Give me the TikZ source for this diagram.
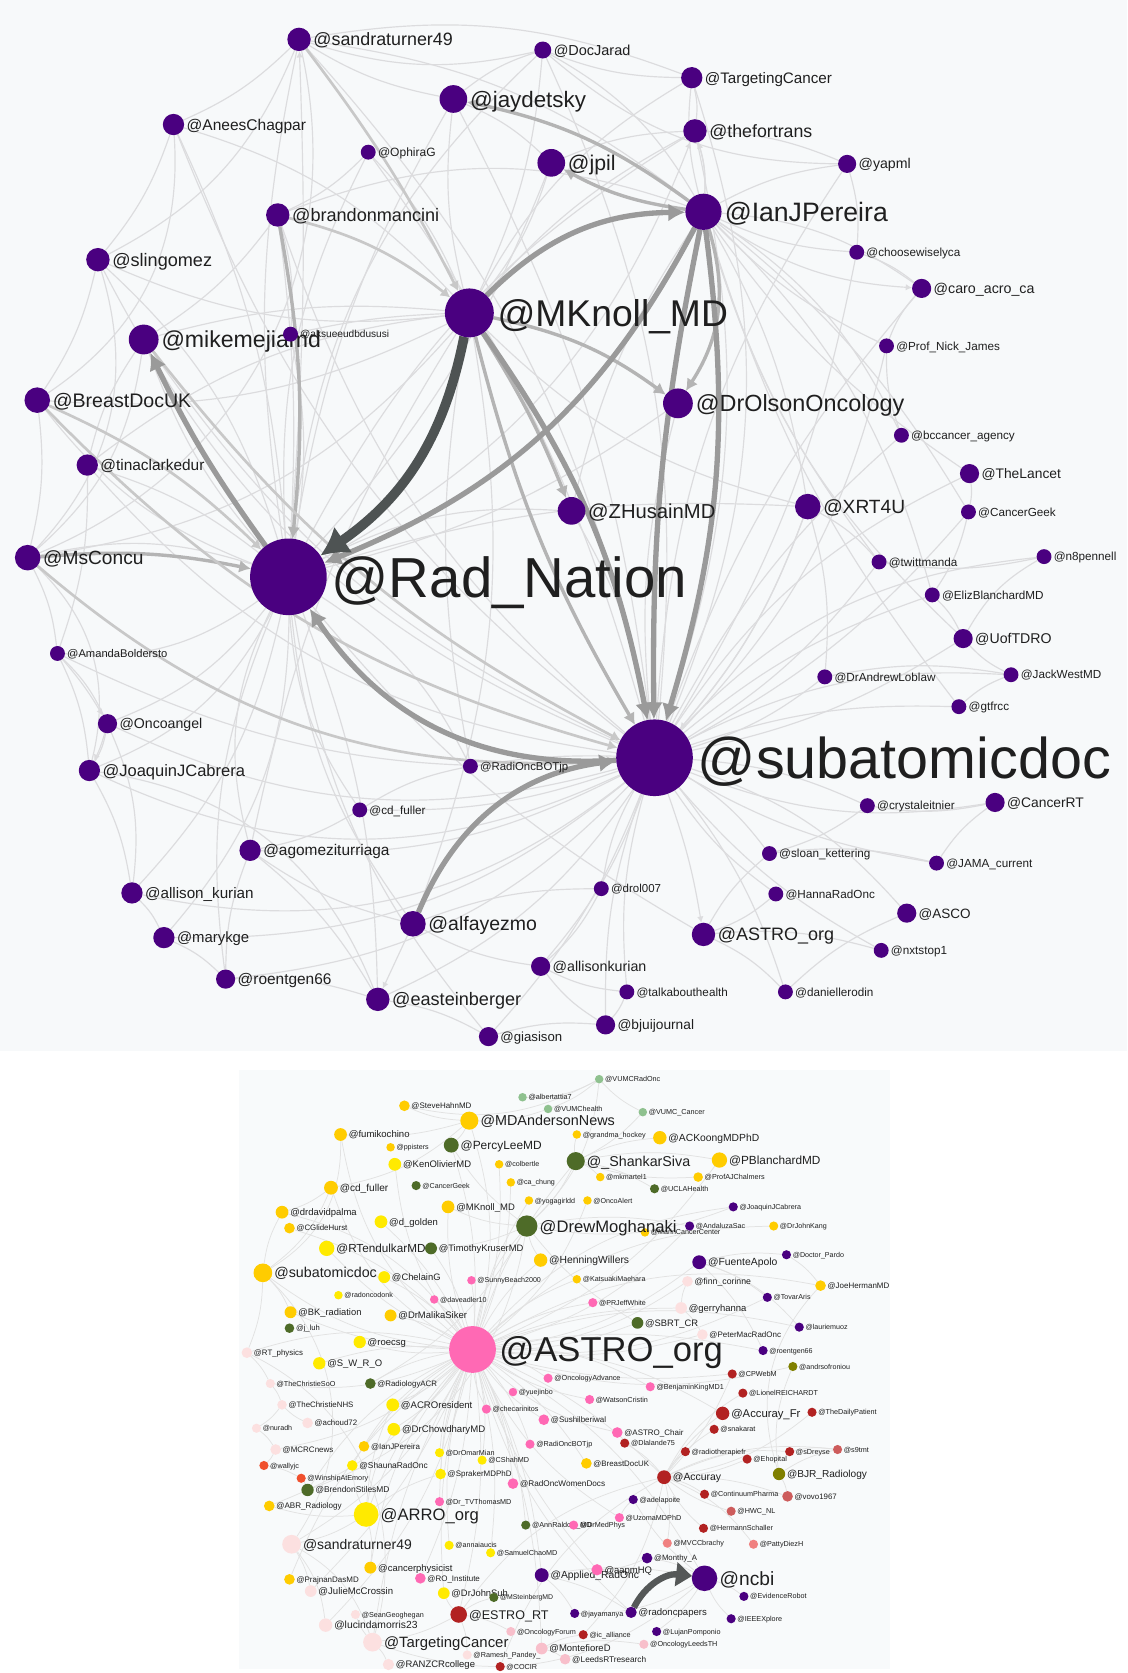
\documentclass[tikz,border=0pt]{standalone}
\usepackage{fontspec}
\setmainfont{Liberation Sans}
\usetikzlibrary{arrows.meta}
\pgfdeclarelayer{back}
\pgfdeclarelayer{edges}
\pgfsetlayers{back,edges,main}
\definecolor{bgtop}{HTML}{F7F9FA}
\definecolor{bgbot}{HTML}{F8FAFB}
\definecolor{cpurp}{HTML}{4A0080}
\definecolor{cgold}{HTML}{FFCC00}
\definecolor{cyel}{HTML}{FFEA00}
\definecolor{cdgreen}{HTML}{4E6B28}
\definecolor{clgreen}{HTML}{8FC18F}
\definecolor{cpink}{HTML}{FF69B4}
\definecolor{clpink}{HTML}{FCE0E0}
\definecolor{cpinkb}{HTML}{F8BFCB}
\definecolor{cdred}{HTML}{B22222}
\definecolor{crose}{HTML}{CD5C5C}
\definecolor{csalmon}{HTML}{F08080}
\definecolor{corange}{HTML}{F0502D}
\definecolor{colive}{HTML}{808000}
\definecolor{tlt}{HTML}{DCDCDE}
\definecolor{tmdl}{HTML}{C8C8C8}
\definecolor{tmd}{HTML}{B4B4B4}
\definecolor{ttk}{HTML}{9A9A9A}
\definecolor{tdk}{HTML}{4E5353}
\definecolor{blt}{HTML}{E2E2E2}
\definecolor{bdkc}{HTML}{555858}
\tikzset{
 dotn/.style={circle,inner sep=0pt,outer sep=0pt,draw=none},
 lbl/.style={anchor=base west,inner sep=0pt,outer sep=0pt,text=black!88},
 lt/.style={draw=tlt,line width=1.1pt},
 lta/.style={lt,-{Latex[length=6pt,width=6pt]}},
 mdl/.style={draw=tmdl,line width=2.5pt,-{Latex[length=9pt,width=10pt]}},
 md/.style={draw=tmd,line width=3.2pt,-{Latex[length=11pt,width=12pt]}},
 tk/.style={draw=ttk,line width=5pt,-{Latex[length=16pt,width=17pt]}},
 dk/.style={draw=tdk,line width=9pt,-{Latex[length=26pt,width=30pt]}},
 bl/.style={draw=blt,line width=0.7pt},
 bdk/.style={draw=bdkc,line width=6pt,-{Triangle[length=15pt,width=22pt]}},
}
\newcommand\tnode[6]{%
 \node[dotn,fill=cpurp,minimum size={2*#4}] (#1) at (#2,#3) {};
 \node[lbl,font=\fontsize{#5}{#5}\selectfont] (#1l) at ([shift={(1.5+0.06*#5,0.36*#5)}]#1.east) {#6};}
\newcommand\bnode[7]{%
 \node[dotn,fill=#6,minimum size={2*#4}] (#1) at (#2,#3) {};
 \node[lbl,font=\fontsize{#5}{#5}\selectfont] (#1l) at ([shift={(1.2+0.06*#5,0.36*#5)}]#1.east) {#7};}
\begin{document}
\begin{tikzpicture}[x=1pt,y=-1pt]
\useasboundingbox (0,0) rectangle (1059,1572);
\begin{pgfonlayer}{back}
\fill[white] (0,0) rectangle (1059,1572);
\fill[bgtop] (0,0) rectangle (1059,988);
\fill[bgbot] (225,1005) rectangle (836,1568);
\end{pgfonlayer}
% ---------------- top graph nodes
\tnode{st}{281}{37}{11}{16.8}{@sandraturner49}
\tnode{dj}{510}{47}{8}{13.6}{@DocJarad}
\tnode{tc}{650}{73}{10}{14.3}{@TargetingCancer}
\tnode{jd}{426}{93}{13}{21}{@jaydetsky}
\tnode{ac}{163}{117}{10}{14.6}{@AneesChagpar}
\tnode{og}{346}{143}{7}{11.3}{@OphiraG}
\tnode{tf}{653}{123}{11}{16.7}{@thefortrans}
\tnode{jp}{518}{153}{13}{20}{@jpil}
\tnode{yp}{796}{154}{8.5}{13.3}{@yapml}
\tnode{ij}{661}{199}{17}{25}{@IanJPereira}
\tnode{bm}{261}{202}{11}{17}{@brandonmancini}
\tnode{cw}{805}{237}{7}{11}{@choosewiselyca}
\tnode{sg}{92}{244}{11}{17}{@slingomez}
\tnode{ca}{866}{271}{9}{13.4}{@caro\_acro\_ca}
\tnode{mk}{441}{294}{23}{35}{@MKnoll\_MD}
\tnode{mm}{135}{319}{14}{21.7}{@mikemejiamd}
\tnode{ak}{273}{314}{7}{9.5}{@aksueeudbdususi}
\tnode{pn}{833}{325}{7}{11}{@Prof\_Nick\_James}
\tnode{bd}{35}{376}{12}{18.4}{@BreastDocUK}
\tnode{do}{637}{379}{14}{22}{@DrOlsonOncology}
\tnode{bc}{847}{409}{7}{11}{@bccancer\_agency}
\tnode{tcd}{82}{437}{10}{14.5}{@tinaclarkedur}
\tnode{tl}{911}{445}{9}{13}{@TheLancet}
\tnode{zh}{537}{480}{13}{19}{@ZHusainMD}
\tnode{xr}{759}{476}{12}{18}{@XRT4U}
\tnode{cg}{910}{481}{7}{11}{@CancerGeek}
\tnode{mc}{26}{524}{12}{18}{@MsConcu}
\tnode{rn}{271}{542}{36}{53}{@Rad\_Nation}
\tnode{tw}{826}{528}{7}{11}{@twittmanda}
\tnode{n8}{981}{523}{7}{11}{@n8pennell}
\tnode{eb}{876}{559}{7}{11}{@ElizBlanchardMD}
\tnode{ab}{54}{614}{7}{10.5}{@AmandaBoldersto}
\tnode{ut}{905}{600}{9}{13.3}{@UofTDRO}
\tnode{al}{775}{636}{7}{11}{@DrAndrewLoblaw}
\tnode{jw}{950}{634}{7}{11}{@JackWestMD}
\tnode{gt}{901}{664}{7}{11}{@gtfrcc}
\tnode{oa}{101}{680}{9}{13.3}{@Oncoangel}
\tnode{sd}{615}{712}{36}{54}{@subatomicdoc}
\tnode{jc}{84}{724}{10}{15.5}{@JoaquinJCabrera}
\tnode{rb}{442}{720}{7}{10.7}{@RadiOncBOTjp}
\tnode{cr}{935}{754}{9}{13}{@CancerRT}
\tnode{ce}{815}{757}{7}{11}{@crystaleitnier}
\tnode{cf}{338}{761}{7}{11}{@cd\_fuller}
\tnode{ag}{235}{799}{10}{14.5}{@agomeziturriaga}
\tnode{sk}{723}{802}{7}{11}{@sloan\_kettering}
\tnode{jm}{880}{811}{7}{11}{@JAMA\_current}
\tnode{dr}{565}{835}{7}{10.8}{@drol007}
\tnode{hr}{729}{840}{7}{11}{@HannaRadOnc}
\tnode{aku}{124}{839}{10}{14.3}{@allison\_kurian}
\tnode{as}{852}{858}{9}{12.7}{@ASCO}
\tnode{af}{388}{868}{12}{18.3}{@alfayezmo}
\tnode{ao}{661}{878}{11}{16.9}{@ASTRO\_org}
\tnode{mg}{154}{881}{10}{14}{@marykge}
\tnode{nx}{828}{893}{7}{11}{@nxtstop1}
\tnode{akk}{508}{908}{9}{13.4}{@allisonkurian}
\tnode{ro}{212}{920}{9}{14.5}{@roentgen66}
\tnode{es}{355}{939}{11}{17}{@easteinberger}
\tnode{tb}{589}{932}{7}{11}{@talkabouthealth}
\tnode{dro}{738}{932}{7}{11}{@daniellerodin}
\tnode{gi}{459}{974}{9}{12.4}{@giasison}
\tnode{bj}{569}{963}{9}{12.9}{@bjuijournal}
% ---------------- bottom graph nodes
\bnode{bVUR}{563}{1014}{4}{6.8}{clgreen}{@VUMCRadOnc}
\bnode{bAlb}{491}{1031}{4}{6.8}{clgreen}{@albertattia7}
\bnode{bVUH}{515}{1042}{4}{6.8}{clgreen}{@VUMChealth}
\bnode{bVUC}{604}{1045}{4}{6.8}{clgreen}{@VUMC\_Cancer}
\bnode{bSHM}{380}{1039}{5}{7.5}{cgold}{@SteveHahnMD}
\bnode{bMDA}{441}{1053}{8.5}{13.5}{cgold}{@MDAndersonNews}
\bnode{bFum}{320}{1066}{6}{9}{cgold}{@fumikochino}
\bnode{bGH}{542}{1066}{4}{6.8}{cgold}{@grandma\_hockey}
\bnode{bACK}{620}{1069}{6.3}{9.7}{cgold}{@ACKoongMDPhD}
\bnode{bPP}{367}{1078}{4}{6.7}{cgold}{@ppisters}
\bnode{bPL}{424}{1076}{7}{11.2}{cdgreen}{@PercyLeeMD}
\bnode{bKO}{371}{1094}{6}{8.9}{cyel}{@KenOlivierMD}
\bnode{bCol}{469}{1094}{4}{6.7}{cgold}{@colbertle}
\bnode{bSS}{541}{1091}{8.5}{13.4}{cdgreen}{@\_ShankarSiva}
\bnode{bPB}{676}{1090}{7.2}{11.1}{cgold}{@PBlanchardMD}
\bnode{bMM}{564}{1106}{4}{6.7}{cgold}{@mkmartel1}
\bnode{bPAC}{656}{1106}{4.5}{6.8}{cgold}{@ProfAJChalmers}
\bnode{bCF}{311}{1116}{6.5}{9.5}{cgold}{@cd\_fuller}
\bnode{bCG}{391}{1114}{4.3}{6.7}{cdgreen}{@CancerGeek}
\bnode{bCC}{480}{1111}{4}{6.7}{cgold}{@ca\_chung}
\bnode{bUCLA}{615}{1117}{4.3}{6.8}{cdgreen}{@UCLAHealth}
\bnode{bYog}{497}{1128}{4}{6.7}{cgold}{@yogagirldd}
\bnode{bOA}{552}{1128}{4}{6.7}{cgold}{@OncoAlert}
\bnode{bJJC}{689}{1134}{4.3}{6.7}{cpurp}{@JoaquinJCabrera}
\bnode{bDDP}{265}{1139}{6}{8.9}{cgold}{@drdavidpalma}
\bnode{bMK}{421}{1134}{6}{8.9}{cgold}{@MKnoll\_MD}
\bnode{bDG}{358}{1148}{6}{8.9}{cyel}{@d\_golden}
\bnode{bMCC}{606}{1158}{4}{6.7}{cgold}{@MarinCancerCenter}
\bnode{bDM}{495}{1152}{10}{15.6}{cdgreen}{@DrewMoghanaki}
\bnode{bAS}{648}{1152}{4.3}{6.7}{cpurp}{@AndaluzaSac}
\bnode{bDJK}{727}{1152}{4.3}{6.7}{cgold}{@DrJohnKang}
\bnode{bCGH}{272}{1154}{5}{7.4}{cgold}{@CGlideHurst}
\bnode{bRT}{307}{1173}{7.2}{11}{cyel}{@RTendulkarMD}
\bnode{bTK}{405}{1173}{5.6}{8.8}{cdgreen}{@TimothyKruserMD}
\bnode{bHW}{508}{1184}{6.3}{9.7}{cgold}{@HenningWillers}
\bnode{bFA}{657}{1186}{6.5}{9.75}{cpurp}{@FuenteApolo}
\bnode{bDP}{739}{1179}{4.3}{6.7}{cpurp}{@Doctor\_Pardo}
\bnode{bSub}{247}{1196}{8.8}{13.4}{cgold}{@subatomicdoc}
\bnode{bChe}{361}{1200}{5.6}{8.8}{cyel}{@ChelainG}
\bnode{bSB}{443}{1203}{4}{6.7}{cpink}{@SunnyBeach2000}
\bnode{bKM}{542}{1202}{4}{6.7}{cgold}{@KatsuakiMaehara}
\bnode{bFC}{646}{1204}{5}{8.2}{clpink}{@finn\_corinne}
\bnode{bJH}{771}{1208}{5}{7.5}{cgold}{@JoeHermanMD}
\bnode{bRC}{318}{1217}{4}{6.7}{cyel}{@radoncodonk}
\bnode{bDA}{408}{1221}{4}{6.7}{cpink}{@daveadler10}
\bnode{bPRJ}{557}{1224}{4.3}{6.7}{cpink}{@PRJeffWhite}
\bnode{bTA}{721}{1219}{4.3}{6.7}{cpurp}{@TovarAris}
\bnode{bBK}{273}{1233}{5.6}{8.8}{cgold}{@BK\_radiation}
\bnode{bDMS}{367}{1236}{5.6}{8.9}{cgold}{@DrMalikaSiker}
\bnode{bGHa}{640}{1229}{5.5}{8.9}{clpink}{@gerryhanna}
\bnode{bJL}{272}{1248}{4.5}{7.2}{cdgreen}{@j\_luh}
\bnode{bSBRT}{599}{1243}{5.5}{8.8}{cdgreen}{@SBRT\_CR}
\bnode{bLM}{751}{1247}{4.3}{6.7}{cpurp}{@lauriemuoz}
\bnode{bPMR}{660}{1254}{5}{7.5}{clpink}{@PeterMacRadOnc}
\bnode{bRoe}{338}{1261}{5.8}{8.9}{cyel}{@roecsg}
\bnode{bA}{444}{1268}{22}{32.5}{cpink}{@ASTRO\_org}
\bnode{bRTP}{232}{1271}{5}{7.4}{clpink}{@RT\_physics}
\bnode{bR66}{717}{1269}{4.3}{6.7}{cpurp}{@roentgen66}
\bnode{bSWRO}{300}{1281}{5.8}{8.9}{cyel}{@S\_W\_R\_O}
\bnode{bAnd}{745}{1284}{4.3}{6.7}{colive}{@andrsofroniou}
\bnode{bCSoO}{254}{1300}{4.3}{6.8}{clpink}{@TheChristieSoO}
\bnode{bRACR}{348}{1300}{5}{7.4}{cdgreen}{@RadiologyACR}
\bnode{bOAdv}{515}{1295}{4.3}{6.8}{cpink}{@OncologyAdvance}
\bnode{bCPW}{688}{1291}{4.3}{6.8}{cdred}{@CPWebM}
\bnode{bYue}{482}{1308}{4}{6.7}{cpink}{@yuejinbo}
\bnode{bBKM}{611}{1303}{4.3}{6.8}{cpink}{@BenjaminKingMD1}
\bnode{bWC}{554}{1315}{4.3}{6.8}{cpink}{@WatsonCristin}
\bnode{bLR}{698}{1309}{4.3}{6.8}{cdred}{@LionelREICHARDT}
\bnode{bCNHS}{265}{1320}{4.5}{7.4}{clpink}{@TheChristieNHS}
\bnode{bACRO}{369}{1320}{6}{9}{cyel}{@ACROresident}
\bnode{bChec}{457}{1324}{4.3}{6.8}{cpink}{@checarinitos}
\bnode{bAFr}{679}{1328}{6.3}{10.6}{cdred}{@Accuray\_Fr}
\bnode{bTDP}{763}{1327}{4.3}{6.8}{cdred}{@TheDailyPatient}
\bnode{bSush}{511}{1334}{5}{7.5}{cpink}{@Sushilberiwal}
\bnode{bNur}{241}{1342}{4.3}{6.7}{clpink}{@nuradh}
\bnode{bAch}{289}{1337}{5}{7.4}{clpink}{@achoud72}
\bnode{bDCh}{370}{1343}{6}{9}{cyel}{@DrChowdharyMD}
\bnode{bAC}{580}{1346}{5}{7.5}{cpink}{@ASTRO\_Chair}
\bnode{bSnk}{671}{1343}{4.3}{6.8}{cdred}{@snakarat}
\bnode{bDl}{587}{1356}{4.3}{6.8}{cdred}{@Dlalande75}
\bnode{bROB}{498}{1357}{4.3}{6.8}{cpink}{@RadiOncBOTjp}
\bnode{bIJP}{342}{1359}{5}{7.5}{cgold}{@IanJPereira}
\bnode{bMCR}{259}{1362}{5}{7.5}{clpink}{@MCRCnews}
\bnode{bRTF}{644}{1364}{4.3}{6.8}{cdred}{@radiotherapiefr}
\bnode{bSD}{742}{1364}{4.3}{6.8}{cdred}{@sDreyse}
\bnode{bS9}{787}{1362}{4.3}{6.8}{crose}{@s9tmt}
\bnode{bDOM}{413}{1365}{4.3}{6.8}{cyel}{@DrOmarMian}
\bnode{bCSh}{453}{1372}{4.3}{6.8}{cyel}{@CShahMD}
\bnode{bEh}{702}{1371}{4.3}{6.8}{cdred}{@Ehopital}
\bnode{bSRO}{331}{1377}{5}{7.9}{cyel}{@ShaunaRadOnc}
\bnode{bWJ}{248}{1377}{4.3}{6.8}{corange}{@wallyjc}
\bnode{bBDU}{551}{1375}{5}{7.4}{cgold}{@BreastDocUK}
\bnode{bSpr}{414}{1385}{5}{7.5}{cyel}{@SprakerMDPhD}
\bnode{bWAE}{283}{1389}{4.3}{6.8}{corange}{@WinshipAtEmory}
\bnode{bAcc}{624}{1388}{6.5}{9.8}{cdred}{@Accuray}
\bnode{bBJR}{732}{1385}{5.8}{9.5}{colive}{@BJR\_Radiology}
\bnode{bBSM}{289}{1400}{5.8}{7.9}{cdgreen}{@BrendonStilesMD}
\bnode{bROWD}{482}{1394}{5}{7.7}{cpink}{@RadOncWomenDocs}
\bnode{bCP}{662}{1404}{4.3}{6.8}{cdred}{@ContinuumPharma}
\bnode{bVov}{740}{1406}{5}{7.4}{crose}{@vovo1967}
\bnode{bAdl}{595}{1409}{4.3}{6.8}{cpurp}{@adelapoite}
\bnode{bTVT}{413}{1411}{4.3}{6.8}{cpink}{@Dr\_TVThomasMD}
\bnode{bABR}{253}{1415}{5}{7.6}{cgold}{@ABR\_Radiology}
\bnode{bARRO}{344}{1423}{11.6}{15.6}{cyel}{@ARRO\_org}
\bnode{bHWC}{687}{1420}{4.3}{6.8}{crose}{@HWC\_NL}
\bnode{bARM}{494}{1433}{4.3}{6.8}{cdgreen}{@AnnRaldow\_MD}
\bnode{bUzo}{582}{1426}{4.3}{6.8}{cpink}{@UzomaMDPhD}
\bnode{bDMP}{539}{1433}{4.3}{6.8}{cpink}{@DrMedPhys}
\bnode{bHS}{661}{1436}{4.3}{6.8}{cdred}{@HermannSchaller}
\bnode{bST}{274}{1451}{8.8}{13.1}{clpink}{@sandraturner49}
\bnode{bMVCC}{627}{1450}{4.3}{6.8}{csalmon}{@MVCCbrachy}
\bnode{bPDH}{708}{1451}{4.3}{6.8}{csalmon}{@PattyDiezH}
\bnode{bAnn}{422}{1452}{4.3}{6.7}{cyel}{@annaiaucis}
\bnode{bSCM}{461}{1459}{4.3}{6.8}{cyel}{@SamuelChaoMD}
\bnode{bMon}{608}{1464}{5}{7.3}{cpurp}{@Monthy\_A}
\bnode{bCPh}{348}{1473}{5.6}{8.9}{cgold}{@cancerphysicist}
\bnode{bARO}{509}{1480}{6.5}{9.7}{cpurp}{@Applied\_RadOnc}
\bnode{bAapm}{561}{1475}{5.3}{8.9}{cpink}{@aapmHQ}
\bnode{bNcbi}{662}{1483}{12}{18}{cpurp}{@ncbi}
\bnode{bROI}{395}{1483}{5}{7.5}{cpink}{@RO\_Institute}
\bnode{bPDM}{272}{1484}{5}{7.5}{cgold}{@PrajnanDasMD}
\bnode{bJMC}{292}{1495}{5.5}{9}{clpink}{@JulieMcCrossin}
\bnode{bDJS}{417}{1497}{5.5}{8.8}{cyel}{@DrJohnSuh}
\bnode{bMSB}{464}{1501}{4.3}{6.5}{cdgreen}{@MSteinbergMD}
\bnode{bER}{699}{1500}{4.3}{6.8}{cpurp}{@EvidenceRobot}
\bnode{bSG}{334}{1517}{4.3}{6.8}{clpink}{@SeanGeoghegan}
\bnode{bESTRO}{431}{1517}{7.8}{11.8}{cdred}{@ESTRO\_RT}
\bnode{bJay}{540}{1516}{4.3}{6.8}{cpurp}{@jayamanya}
\bnode{bRP}{593}{1515}{5.3}{9}{cpurp}{@radoncpapers}
\bnode{bIEEE}{687}{1521}{4.3}{6.8}{cpurp}{@IEEEXplore}
\bnode{bLuc}{306}{1527}{6.3}{9.7}{clpink}{@lucindamorris23}
\bnode{bOF}{480}{1533}{4.3}{6.8}{cpinkb}{@OncologyForum}
\bnode{bIC}{548}{1536}{4.3}{6.8}{cdred}{@ic\_alliance}
\bnode{bLP}{617}{1533}{4.3}{6.8}{cpurp}{@LujanPomponio}
\bnode{bTC}{350}{1543}{8.8}{14}{clpink}{@TargetingCancer}
\bnode{bRPa}{439}{1555}{4.3}{6.8}{clpink}{@Ramesh\_Pandey\_}
\bnode{bMF}{509}{1549}{5.5}{8.9}{cpinkb}{@MontefioreD}
\bnode{bOLT}{605}{1545}{4.3}{6.8}{cpinkb}{@OncologyLeedsTH}
\bnode{bRANZ}{365}{1564}{5.3}{8.9}{clpink}{@RANZCRcollege}
\bnode{bCOC}{470}{1566}{4.3}{6.8}{cdred}{@COCIR}
\bnode{bLRT}{531}{1559}{5}{7.8}{cpinkb}{@LeedsRTresearch}
% ---------------- edges
\begin{pgfonlayer}{edges}
% top light web
\foreach \a/\c in {st/-10,ac/10,og/-15,bm/5,sg/15,mm/-10,ak/10,bd/-15,tcd/10,mc/15,ab/-20,oa/-15,jc/-20,cf/15,ag/20,aku/-15,mg/-20,ro/15,es/-10,af/15,rb/-15,jd/-10,jp/10,zh/-15,dj/-20,tf/-15,do/10,xr/-10,ao/10,gi/15}
  \draw[lt] (\a) to[bend left=\c] (rn);
\foreach \a/\c in {st/15,jd/10,bm/-15,sg/-20,mm/-15,tcd/-20,ab/-15,oa/-20,jc/-25,rb/5,cf/-10,ag/-15,aku/-25,mg/-20,ro/-20,es/-15,dr/10,sk/-10,hr/10,as/-15,nx/10,akk/-10,tb/10,dro/-10,gi/-10,bj/10,cr/15,ce/-10,jm/10,gt/-10,al/10,jw/-15,ut/10,eb/-10,tw/10,n8/-20,cg/10,tl/-15,xr/10,bc/-10,pn/15,ca/-10,cw/10,do/-10,zh/10,tf/15,tc/20,yp/-15,og/10,ac/-15,dj/15}
  \draw[lt] (\a) to[bend left=\c] (sd);
\foreach \a/\c in {jd/-10,og/10,ac/15,sg/-15,mm/10,ak/5,bd/-15,tcd/15,mc/-20,jp/10,tf/-10,tc/-15,dj/10,xr/15,ag/10,af/-15,rb/10}
  \draw[lt] (\a) to[bend left=\c] (mk);
\foreach \a/\c in {tf/10,tc/-10,dj/15,yp/-10,cw/10,ca/-15,pn/10,bc/-15,tl/10,xr/-10,zh/10,st/15,cg/-10,tw/10,ut/15,bm/20,eb/-15,gt/10}
  \draw[lt] (\a) to[bend left=\c] (ij);
\foreach \a/\b/\c in {st/ac/10,st/dj/-15,st/jd/-10,ac/sg/10,sg/bd/10,bd/mc/10,mc/ab/10,ab/oa/10,oa/jc/10,jc/aku/10,aku/mg/10,mg/ro/10,ro/es/10,es/gi/10,gi/bj/10,bj/akk/10,akk/af/10,ag/af/-10,tc/tf/10,tf/yp/10,yp/cw/10,cw/ca/10,n8/tw/10,jw/al/-10,jw/ut/10,cr/ce/10,ce/sk/10,sk/jm/10,ao/nx/10,dr/akk/10,tb/bj/10,dro/as/10,hr/ao/10,st/mc/40,ac/bd/30,dj/tc/-10,jd/jp/10,bm/mm/10,og/bm/10,tcd/mm/10,mc/jc/30,ab/jc/10,oa/aku/15,ag/es/10,ro/ag/10,cf/ag/10,af/dr/10,ao/dro/10,tb/akk/10,jm/cr/10,eb/ut/10,tl/cg/10,bc/pn/10,pn/ca/10,xr/tw/10,xr/al/10,gt/jw/10,st/tc/15,sg/mc/30,jc/es/30,dj/yp/-20,sg/st/-20,mm/mc/20,jp/tf/10,jd/dj/10,bm/ak/10,tcd/ab/10,cf/rb/10,ao/sk/10,n8/ut/-15,cg/eb/10}
  \draw[lt] (\a) to[bend left=\c] (\b);
\draw[lta] (rn) to[bend right=3] (st);
\draw[lta] (xr) to[bend left=10] (sd);
\draw[lta] (oa) to[bend left=5] (jc);
\draw[lta] (ab) to[bend left=5] (oa);
\draw[lta] (rn) to[bend right=20] (tf);
\draw[lta] (ij) to[bend right=10] (tf);
\draw[lta] (ij) to[bend right=15] (ca);
\draw[lta] (af) to (es);
\draw[lta] (sd) to[bend left=5] (ao);
% top highlighted connectors
\draw[mdl] (st) to[bend left=5] (mk);
\draw[mdl] (bm) to[bend left=12] (mk);
\draw[md] (bm) to[bend left=8] (rn);
\draw[md] (ij) to[bend right=12] (jd);
\draw[md] (ij) to[bend left=10] (jp);
\draw[md] (ij) to[bend left=25] (do);
\draw[md] (mk) to[bend left=12] (do);
\draw[md] (mk) to[bend left=5] (zh);
\draw[md] (mc) to[bend left=8] (rn);
\draw[mdl] (bd) to[bend left=10] (rn);
\draw[mdl] (mc) to[bend right=22] (sd);
\draw[mdl] (mm) to[bend right=12] (sd);
\draw[mdl] (bd) to[bend right=15] (sd);
\draw[md] (mk) to[bend right=8] (sd);
\draw[tk] (mk) to[bend left=22] (ij);
\draw[tk] (ij) to[bend left=20] (rn);
\draw[tk] (mk) to[bend left=12] (sd);
\draw[tk] (ij) to[bend right=6] (sd);
\draw[tk] (ij) to[bend left=12] (sd);
\draw[tk] (sd) to[bend left=30] (rn);
\draw[tk] (af) to[bend left=30] (sd);
\draw[tk] (rn) to[bend left=5] (mm);
\draw[dk] (mk) to[bend left=22] (rn);
% bottom light web
\foreach \a/\c in {bMDA/15,bFum/-20,bPL/10,bKO/-15,bCol/10,bSS/-10,bPB/15,bCF/-20,bCC/10,bYog/-10,bOA/15,bJJC/-20,bDDP/20,bMK/-10,bDG/10,bDM/-15,bAS/15,bDJK/-20,bCGH/15,bRT/-10,bTK/10,bHW/-10,bFA/15,bSub/-15,bChe/10,bSB/5,bKM/-10,bFC/15,bJH/-20,bDA/10,bPRJ/-10,bTA/15,bBK/-10,bDMS/10,bGHa/-10,bSBRT/10,bLM/-15,bPMR/10,bRoe/-10,bRTP/15,bR66/-10,bSWRO/10,bAnd/15,bCSoO/-15,bRACR/10,bOAdv/-10,bCPW/10,bBKM/-15,bWC/10,bACRO/-10,bChec/10,bAFr/-15,bSush/10,bDCh/-10,bAC/15,bROB/-10,bIJP/10,bMCR/-15,bDOM/10,bCSh/-10,bSRO/15,bBDU/-10,bSpr/10,bAcc/-10,bBSM/15,bROWD/-10,bTVT/10,bABR/-15,bARRO/10,bARM/-10,bUzo/15,bST/-15,bAnn/10,bSCM/-10,bCPh/15,bARO/-10,bAapm/10,bROI/-10,bPDM/15,bJMC/-10,bDJS/10,bESTRO/-10,bRP/15,bLuc/-15,bTC/10,bMF/-10,bNcbi/-15}
  \draw[bl] (\a) to[bend left=\c] (bA);
\foreach \a/\b/\c in {bAcc/bAFr/10,bAcc/bSnk/10,bAcc/bDl/-10,bAcc/bRTF/10,bAcc/bEh/-10,bAcc/bSD/15,bAcc/bCP/10,bAcc/bHS/-10,bAcc/bMVCC/10,bAcc/bLR/15,bAcc/bCPW/-10,bAcc/bTDP/-15,bAcc/bS9/15,bAcc/bVov/10,bAcc/bHWC/-10,bAcc/bPDH/15,bAcc/bESTRO/-20,bAcc/bCOC/-20,bAcc/bIC/15,bNcbi/bER/10,bNcbi/bIEEE/-10,bNcbi/bLP/10,bNcbi/bMon/-10,bNcbi/bAdl/10,bNcbi/bJay/15,bNcbi/bARO/-10,bVUR/bVUH/10,bVUR/bVUC/-10,bVUR/bAlb/15,bVUH/bMDA/10,bVUC/bSS/10,bVUR/bDM/20,bSS/bDM/10,bSS/bPB/10,bSS/bUCLA/10,bSS/bMM/10,bSS/bACK/10,bSS/bGH/10,bSS/bPAC/-10,bDM/bTK/10,bDM/bMK/10,bDM/bHW/-10,bDM/bPL/10,bDM/bJJC/-15,bDM/bAS/10,bDM/bBSM/30,bDM/bSBRT/-10,bDM/bRACR/15,bMDA/bSHM/10,bMDA/bFum/10,bMDA/bPL/10,bMDA/bCF/15,bCF/bDDP/10,bCF/bSub/15,bSub/bBK/10,bSub/bRTP/10,bSub/bDDP/10,bARRO/bACRO/10,bARRO/bDCh/10,bARRO/bSRO/10,bARRO/bSpr/10,bARRO/bST/10,bARRO/bCPh/10,bARRO/bABR/10,bST/bTC/20,bST/bJMC/10,bST/bLuc/15,bTC/bRANZ/10,bTC/bSG/10,bESTRO/bRPa/10,bESTRO/bMSB/10,bESTRO/bDJS/10,bESTRO/bOF/10,bFA/bDP/10,bFA/bTA/10,bFA/bLM/15,bFA/bR66/10,bDP/bJH/10,bGHa/bFC/10,bGHa/bPMR/10,bBJR/bAnd/15,bBJR/bS9/10,bBJR/bVov/10,bSD/bS9/10,bMF/bLRT/10,bMF/bOLT/10,bRTP/bCSoO/10,bCSoO/bCNHS/10,bCNHS/bNur/10,bNur/bMCR/10,bMCR/bWJ/10,bWJ/bWAE/10,bWAE/bBSM/10,bSub/bST/40,bFum/bSub/30,bSHM/bVUR/-20,bJH/bBJR/-30,bTC/bNcbi/-30,bRTP/bTC/40,bAch/bCNHS/10,bARO/bRP/10,bARO/bJay/10,bMon/bAapm/10,bUzo/bAdl/10,bESTRO/bTC/10,bMF/bIC/10}
  \draw[bl] (\a) to[bend left=\c] (\b);
\draw[bdk] (bRP) to[bend left=35] (bNcbi);
\end{pgfonlayer}
\end{tikzpicture}
\end{document}
